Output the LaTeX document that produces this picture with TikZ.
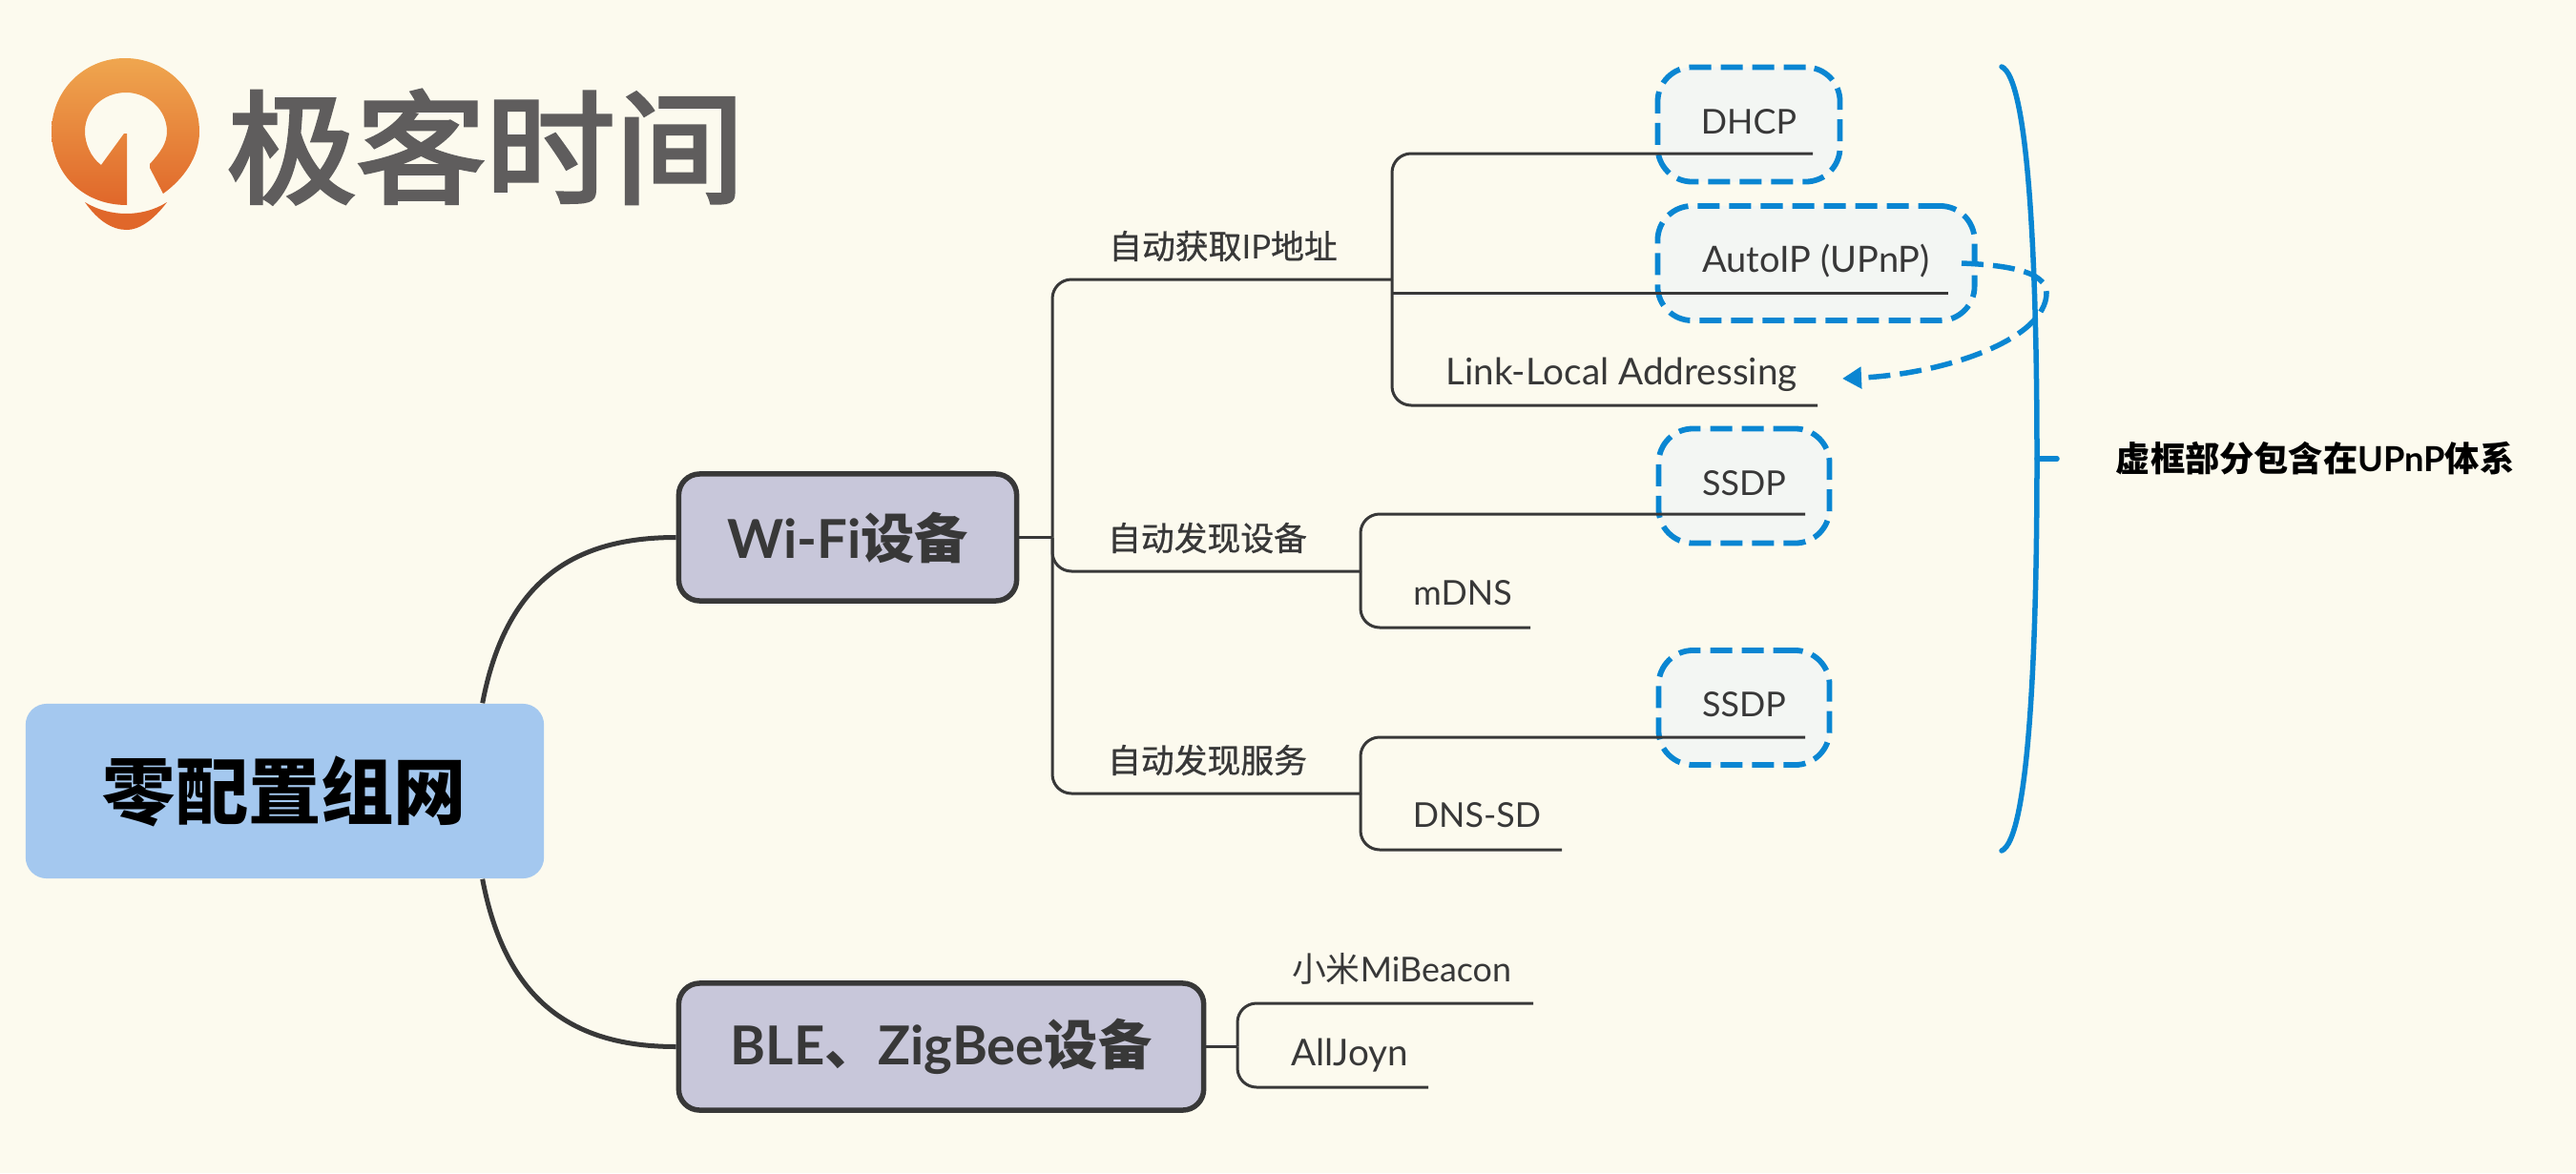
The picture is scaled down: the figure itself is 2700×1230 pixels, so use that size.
\documentclass[tikz,border=0pt]{standalone}
\usepackage{fontspec}
\setmainfont{Lato}
\newfontfamily\cjkfont{Noto Sans CJK SC}
\newfontfamily\logofont[FakeBold=3]{Noto Sans CJK SC}
\newfontfamily\midfont[FakeBold=0.8]{Noto Sans CJK SC}
\usetikzlibrary{arrows.meta}
\newcommand{\zh}[1]{{\cjkfont #1}}
\newcommand{\zm}[1]{{\midfont #1}}
\definecolor{paper}{HTML}{FCFAEE}
\definecolor{rootblue}{HTML}{A4C8EF}
\definecolor{mauve}{HTML}{C8C7DA}
\definecolor{ink}{HTML}{383838}
\definecolor{wire}{HTML}{0A86D2}
\definecolor{mist}{HTML}{F3F6F3}
\definecolor{logogray}{HTML}{5F5D5D}
\definecolor{logolight}{HTML}{EFA64F}
\definecolor{logodark}{HTML}{E0672A}
\tikzset{
  rootbox/.style={fill=rootblue, rounded corners=0.22cm, minimum width=5.43cm, minimum height=1.83cm, font=\fontsize{21.7}{26}\selectfont\cjkfont\bfseries},
  subbox/.style={draw=ink, fill=mauve, line width=0.055cm, rounded corners=0.22cm, text=ink, minimum height=1.33cm, font=\fontsize{16}{20}\selectfont\bfseries},
  dashbox/.style={draw=wire, fill=mist, line width=0.058cm, dash pattern=on 0.23cm off 0.1cm, rounded corners=0.36cm, minimum height=1.2cm, text=ink, text height=0.26cm, text depth=0.07cm, font=\fontsize{10.2}{12}\selectfont},
  leaf/.style={text=ink, inner sep=0pt, font=\fontsize{10.2}{12}\selectfont},
  zhleaf/.style={leaf, font=\fontsize{9.9}{12}\selectfont},
  wideleaf/.style={leaf, font=\fontsize{11}{13}\selectfont},
  branch/.style={draw=ink, line width=0.03cm, rounded corners=0.2cm},
  limb/.style={draw=ink, line width=0.05cm},
  bracket/.style={draw=wire, line width=0.055cm, line cap=round}
}
\begin{document}
\begin{tikzpicture}[x=0.01cm, y=-0.01cm]
        \fill[paper] (0,0) rectangle (2700,1230);
        \useasboundingbox (0,0) rectangle (2700,1230);

        \shade[top color=logolight, bottom color=logodark] (133,215) .. controls (85,215) and (54,180) .. (54,138) .. controls (54,95) and (88,61) .. (131,61) .. controls (174,61) and (209,95) .. (209,138) .. controls (209,165) and (192,188) .. (171,203) -- (157,176) -- (157,172) .. controls (168,160) and (175,150) .. (175,138) .. controls (175,115) and (155,97) .. (132,97) .. controls (108,97) and (89,115) .. (89,138) .. controls (89,150) and (95,165) .. (106,173) -- (130,140) -- (133,140) -- cycle;
        \fill[logodark] (89,212) .. controls (115,228) and (150,228) .. (175,212) .. controls (160,232) and (145,241) .. (133,241) .. controls (118,241) and (103,232) .. (89,212) -- cycle;
        \node[text=logogray, inner sep=0pt, font=\fontsize{36.4}{40}\selectfont\logofont] (logotext) at (509,154) {\scalebox{1.06}[1]{极客时间}};

        \node[rootbox] (root) at (298.5,829.5) {零配置组网};
        \node[subbox, minimum width=3.54cm] (wifi) at (888.5,563.5) {Wi-Fi\zh{设备}};
        \node[subbox, minimum width=5.5cm] (ble) at (986.5,1097.5) {BLE\zh{、}ZigBee\zh{设备}};

        \node[dashbox, minimum width=1.91cm] (dhcp) at (1833,130.5) {DHCP};
        \node[dashbox, minimum width=3.32cm, font=\fontsize{10.8}{13}\selectfont] (autoip) at (1903.5,276) {AutoIP (UPnP)};
        \node[dashbox, minimum width=1.79cm] (ssdpa) at (1828,509.5) {SSDP};
        \node[dashbox, minimum width=1.79cm] (ssdpb) at (1828,742) {SSDP};

        \node[zhleaf] (getip) at (1282,258) {\zm{自动获取}IP\zm{地址}};
        \node[zhleaf] (finddev) at (1265.5,564) {\zm{自动发现设备}};
        \node[zhleaf] (findsrv) at (1265.5,797) {\zm{自动发现服务}};
        \node[wideleaf] (linklocal) at (1699.5,393) {Link-Local Addressing};
        \node[leaf] (mdns) at (1533,622) {mDNS};
        \node[leaf] (dnssd) at (1548,855) {DNS-SD};
        \node[leaf] (mibeacon) at (1469,1016) {\zh{小米}MiBeacon};
        \node[wideleaf] (alljoyn) at (1414.5,1107) {AllJoyn};
        \node[inner sep=0pt, text=black, font=\fontsize{10.3}{12}\selectfont\bfseries] (note) at (2426.5,481) {\zh{虚框部分包含在}UPnP\zh{体系}};

        \coordinate (trunk) at (1103,563.5);
        \coordinate (getipend) at (1459,293);
        \coordinate (finddevend) at (1426,599);
        \coordinate (findsrvend) at (1426,832);
        \coordinate (dhcpend) at (1900,161);
        \coordinate (autoipend) at (2042,307);
        \coordinate (linkend) at (1905,425);
        \coordinate (ssdpaend) at (1892,539);
        \coordinate (mdnsend) at (1604,658);
        \coordinate (ssdpbend) at (1892,773);
        \coordinate (dnssdend) at (1637,891);
        \coordinate (blefork) at (1297,1097.5);
        \coordinate (mibeaconend) at (1607,1052);
        \coordinate (alljoynend) at (1497,1140);

        \draw[limb] (root.24) .. controls (530,610) and (600,563.5) .. (wifi.west);
        \draw[limb] (root.-24) .. controls (530,1050) and (600,1097.5) .. (ble.west);

        \draw[branch] (wifi.east) -- (trunk);
        \draw[branch] (trunk) |- (getipend);
        \draw[branch] (trunk) |- (finddevend);
        \draw[branch] (trunk) |- (findsrvend);
        \draw[branch] (getipend) |- (dhcpend);
        \draw[branch] (getipend |- autoipend) -- (autoipend);
        \draw[branch] (getipend) |- (linkend);
        \draw[branch] (finddevend) |- (ssdpaend);
        \draw[branch] (finddevend) |- (mdnsend);
        \draw[branch] (findsrvend) |- (ssdpbend);
        \draw[branch] (findsrvend) |- (dnssdend);
        \draw[branch] (ble.east) -- (blefork);
        \draw[branch] (blefork) |- (mibeaconend);
        \draw[branch] (blefork) |- (alljoynend);

        \coordinate (arrowfrom) at (2056,276);
        \coordinate (arrowto) at (1931,397);
        \draw[draw=wire, line width=0.055cm, dash pattern=on 0.23cm off 0.1cm, -{Triangle[length=0.2cm, width=0.22cm]}] (arrowfrom) .. controls (2105,278) and (2145,285) .. (2145,307) .. controls (2145,355) and (2040,392) .. (arrowto);

        \coordinate (bracetop) at (2098,70);
        \coordinate (bracemid) at (2135,481);
        \coordinate (bracebot) at (2098,892);
        \coordinate (bracetick) at (2156,481);
        \draw[bracket] (bracetop) .. controls (2125,82) and (2135,262) .. (bracemid) .. controls (2135,700) and (2125,880) .. (bracebot);
        \draw[bracket] (bracemid) -- (bracetick);
\end{tikzpicture}
\end{document}
